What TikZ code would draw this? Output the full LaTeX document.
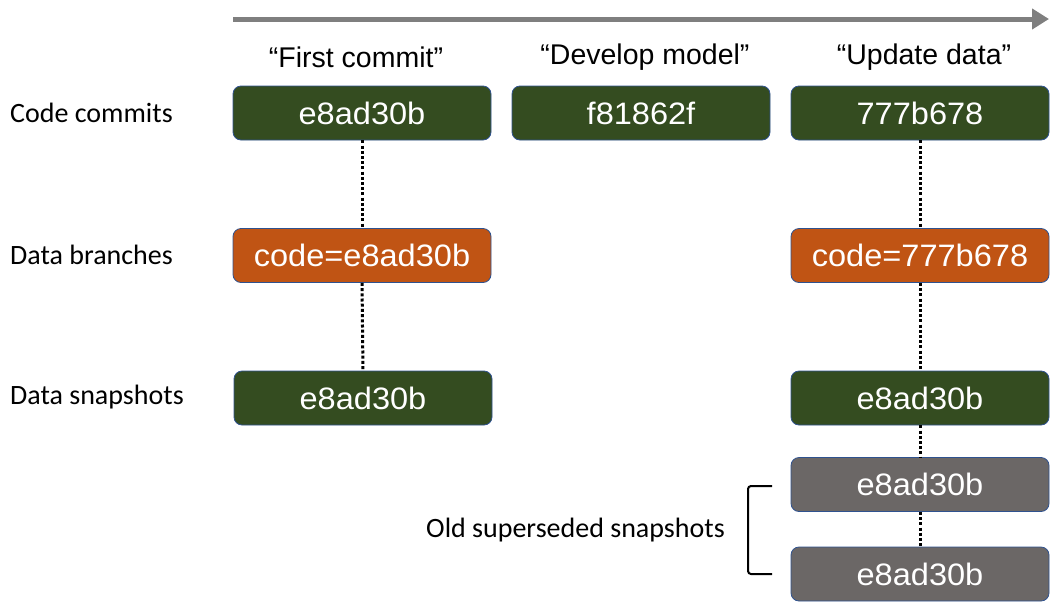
\documentclass[tikz,border=0pt]{standalone}
\usepackage{fontspec}
\setmainfont{Liberation Sans}
\newfontfamily\calib{Carlito}
\newfontfamily\boxfont[FakeStretch=1.05]{Liberation Sans}
\usetikzlibrary{arrows.meta}
\definecolor{boxgreen}{HTML}{344C20}
\definecolor{boxorange}{HTML}{C05414}
\definecolor{boxgray}{HTML}{6B6766}
\definecolor{boxedge}{HTML}{2F528F}
\definecolor{arrowgray}{HTML}{7F7F7F}
\tikzset{
  cbox/.style={rounded corners=8pt, draw=boxedge, line width=0.8pt, minimum width=258pt, minimum height=54pt, inner sep=0pt, text=white, font=\boxfont\fontsize{31}{36}\selectfont},
  greenbox/.style={cbox, fill=boxgreen},
  orangebox/.style={cbox, fill=boxorange},
  graybox/.style={cbox, fill=boxgray},
  heading/.style={font=\fontsize{28.5}{33}\selectfont, text=black},
  rowlabel/.style={font=\calib\fontsize{28}{33}\selectfont, anchor=west, inner sep=0pt},
  dotline/.style={line width=3pt, dash pattern=on 3pt off 2.2pt},
}
\begin{document}
\begin{tikzpicture}[x=1pt,y=-1pt]
\useasboundingbox (0,0) rectangle (1060,611);
% timeline arrow
\coordinate (tstart) at (233,19);
\coordinate (tend) at (1049,19);
\draw[arrowgray, line width=5pt, -{Triangle[length=17pt,width=20pt]}] (tstart) -- (tend);
% headings
\node[heading] (h1) at (356,57) {“First commit”};
\node[heading] (h2) at (645,57) {“Develop model”};
\node[heading] (h3) at (924,57) {“Update data”};
% row labels
\node[rowlabel] (l1) at (10,113) {Code commits};
\node[rowlabel] (l2) at (10,255) {Data branches};
\node[rowlabel] (l3) at (10,397) {Data snapshots};
% boxes
\node[greenbox] (c1) at (362,113) {e8ad30b};
\node[greenbox] (c2) at (641,113) {f81862f};
\node[greenbox] (c3) at (920,113) {777b678};
\node[orangebox] (b1) at (362,255.5) {code=e8ad30b};
\node[orangebox] (b3) at (920,255.5) {code=777b678};
\node[greenbox] (s1) at (363,398) {e8ad30b};
\node[greenbox] (s3) at (920,398) {e8ad30b};
\node[graybox] (o1) at (920,484.5) {e8ad30b};
\node[graybox] (o2) at (920,574) {e8ad30b};
% dotted connectors
\draw[dotline] (c1.south) -- (b1.north);
\draw[dotline] (b1.south) -- (s1.north);
\draw[dotline] (c3.south) -- (b3.north);
\draw[dotline] (b3.south) -- (s3.north);
\draw[dotline] (s3.south) -- (o1.north);
\draw[dotline] (o1.south) -- (o2.north);
% bracket
\coordinate (br1) at (772,486);
\coordinate (br2) at (748,486);
\coordinate (br3) at (748,574);
\coordinate (br4) at (772,574);
\draw[line width=2pt, rounded corners=3pt] (br1) -- (br2) -- (br3) -- (br4);
\node[font=\calib\fontsize{28}{33}\selectfont] (old) at (575.5,530) {Old superseded snapshots};
\end{tikzpicture}
\end{document}
